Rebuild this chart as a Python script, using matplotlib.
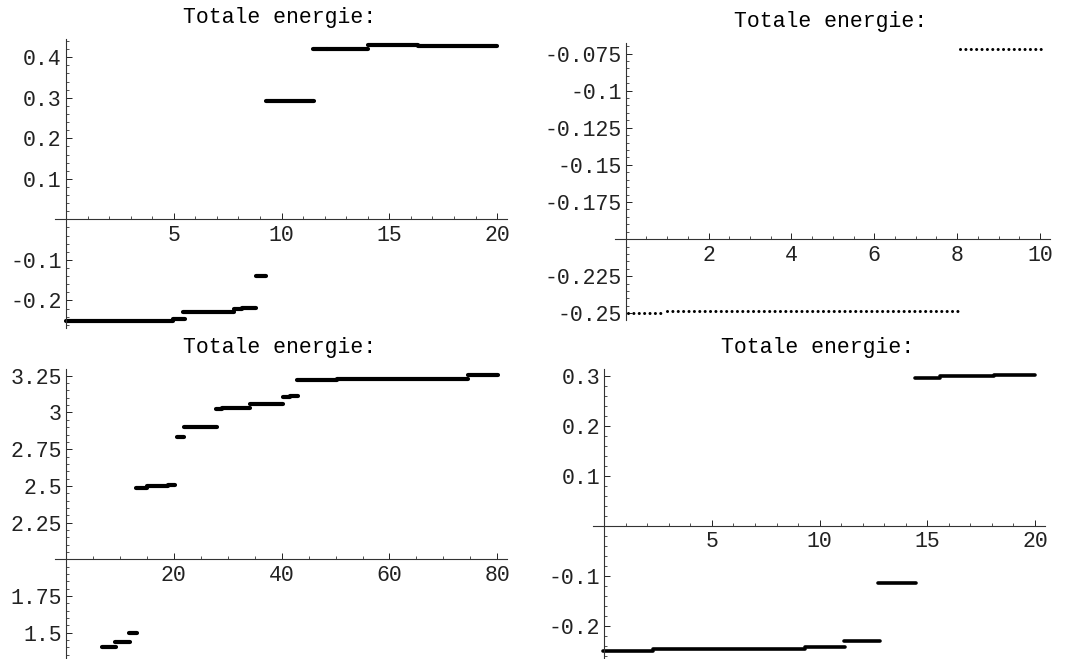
import numpy as np
import matplotlib
matplotlib.use("Agg")
import matplotlib.pyplot as plt
from matplotlib.ticker import FixedLocator, FixedFormatter, MultipleLocator

plt.rcParams['font.family'] = ['Liberation Mono', 'DejaVu Sans Mono']

TITLE = "Totale energie:"

# ---------------- Panel A (top-left) : step segments ----------------
a_start = [0.0, 4.95, 5.45, 7.80, 8.15, 8.80, 9.30, 11.45, 12.10, 14.00, 16.35]
a_end   = [4.95, 5.50, 7.80, 8.15, 8.80, 9.30, 11.50, 12.10, 14.00, 16.35, 20.00]
a_level = [-0.250, -0.245, -0.228, -0.222, -0.219, -0.140, 0.291, 0.420, 0.421, 0.429, 0.427]
a_xticks = [5, 10, 15, 20]
a_xlabels = ["5", "10", "15", "20"]
a_yticks = [-0.2, -0.1, 0.1, 0.2, 0.3, 0.4]
a_ylabels = ["-0.2", "-0.1", "0.1", "0.2", "0.3", "0.4"]

# ---------------- Panel B (top-right) : sampled steps ----------------
b_start = [0.06, 1.00, 8.07]
b_end   = [0.88, 8.01, 10.02]
b_level = [-0.2500, -0.2482, -0.0722]
b_xticks = [2, 4, 6, 8, 10]
b_xlabels = ["2", "4", "6", "8", "10"]
b_yticks = [-0.25, -0.225, -0.175, -0.15, -0.125, -0.1, -0.075]
b_ylabels = ["-0.25", "-0.225", "-0.175", "-0.15", "-0.125", "-0.1", "-0.075"]

# ---------------- Panel C (bottom-left) ----------------
c_start = [6.6, 9.1, 11.75, 13.0, 15.0, 19.0, 20.35, 20.5, 21.9, 27.8, 29.0, 34.1, 40.2, 41.5, 42.8, 50.2, 74.6]
c_end   = [9.2, 11.9, 13.1, 15.0, 19.0, 20.2, 20.45, 21.9, 28.0, 29.0, 34.1, 40.3, 41.5, 43.1, 50.2, 74.6, 80.2]
c_level = [1.400, 1.437, 1.500, 2.485, 2.497, 2.507, 2.570, 2.835, 2.903, 3.025, 3.033, 3.060,
           3.105, 3.115, 3.222, 3.226, 3.252]
c_xticks = [20, 40, 60, 80]
c_xlabels = ["20", "40", "60", "80"]
c_yticks = [1.5, 1.75, 2.25, 2.5, 2.75, 3.0, 3.25]
c_ylabels = ["1.5", "1.75", "2.25", "2.5", "2.75", "3", "3.25"]

# ---------------- Panel D (bottom-right) ----------------
d_start = [-0.05, 2.28, 9.32, 11.15, 12.70, 14.45, 15.60, 18.10]
d_end   = [2.28, 9.32, 11.18, 12.80, 14.50, 15.60, 18.10, 20.00]
d_level = [-0.250, -0.247, -0.243, -0.231, -0.1153, 0.296, 0.300, 0.3013]
d_xticks = [5, 10, 15, 20]
d_xlabels = ["5", "10", "15", "20"]
d_yticks = [-0.2, -0.1, 0.1, 0.2, 0.3]
d_ylabels = ["-0.2", "-0.1", "0.1", "0.2", "0.3"]

W, H = 1075, 659
fig = plt.figure(figsize=(W / 100, H / 100), dpi=100)
FS = 15.5


def px_axes(x0, x1, y0, y1):
    return fig.add_axes([x0 / W, 1 - y1 / H, (x1 - x0) / W, (y1 - y0) / H])


def style(ax, xlim, ylim, ycross, xt, xl, yt, yl, xminor, yminor):
    ax.set_xlim(*xlim)
    ax.set_ylim(*ylim)
    ax.patch.set_visible(False)
    for s in ("top", "right"):
        ax.spines[s].set_visible(False)
    ax.spines["left"].set_position(("data", 0))
    ax.spines["bottom"].set_position(("data", ycross))
    for s in ("left", "bottom"):
        ax.spines[s].set_linewidth(0.8)
        ax.spines[s].set_color("#333333")
    ax.xaxis.set_major_locator(FixedLocator(xt))
    ax.xaxis.set_major_formatter(FixedFormatter(xl))
    ax.yaxis.set_major_locator(FixedLocator(yt))
    ax.yaxis.set_major_formatter(FixedFormatter(yl))
    ax.xaxis.set_minor_locator(MultipleLocator(xminor))
    ax.yaxis.set_minor_locator(MultipleLocator(yminor))
    ax.tick_params(which="major", direction="in", length=4, width=0.7,
                   labelsize=FS, colors="#222222", pad=3)
    ax.tick_params(axis="x", which="major", pad=4)
    ax.tick_params(which="minor", direction="in", length=2.2, width=0.6, colors="#333333")


# Panel A
axA = px_axes(55, 507, 39, 328)
style(axA, (-0.51, 20.46), (-0.268, 0.445), 0.0, a_xticks, a_xlabels, a_yticks, a_ylabels, 1, 0.02)
axA.hlines(a_level, a_start, a_end, colors="black", linewidth=3.0, capstyle="round")
fig.text(280 / W, 1 - 17.5 / H, TITLE, ha="center", va="center", fontsize=FS)

# Panel B
axB = px_axes(615, 1050, 43.3, 320)
style(axB, (-0.258, 10.24), (-0.2545, -0.0681), -0.2, b_xticks, b_xlabels, b_yticks, b_ylabels, 0.5, 0.005)
axB.hlines(b_level, b_start, b_end, colors="black", linewidth=2.2,
           linestyles=[(0, (0.01, 1.75))], capstyle="round")
fig.text(830.7 / W, 1 - 21.7 / H, TITLE, ha="center", va="center", fontsize=FS)

# Panel C
axC = px_axes(55, 507, 369.3, 658.3)
style(axC, (-2.04, 81.8), (1.326, 3.294), 2.0, c_xticks, c_xlabels, c_yticks, c_ylabels, 5, 0.05)
axC.hlines(c_level, c_start, c_end, colors="black", linewidth=3.0, capstyle="round")
fig.text(280 / W, 1 - 347.3 / H, TITLE, ha="center", va="center", fontsize=FS)

# Panel D
axD = px_axes(593.3, 1045, 369.3, 658.3)
style(axD, (-0.51, 20.47), (-0.265, 0.313), 0.0, d_xticks, d_xlabels, d_yticks, d_ylabels, 1, 0.02)
axD.hlines(d_level, d_start, d_end, colors="black", linewidth=2.6, capstyle="round")
fig.text(817.7 / W, 1 - 347.3 / H, TITLE, ha="center", va="center", fontsize=FS)

fig.savefig("out.png", dpi=100)
